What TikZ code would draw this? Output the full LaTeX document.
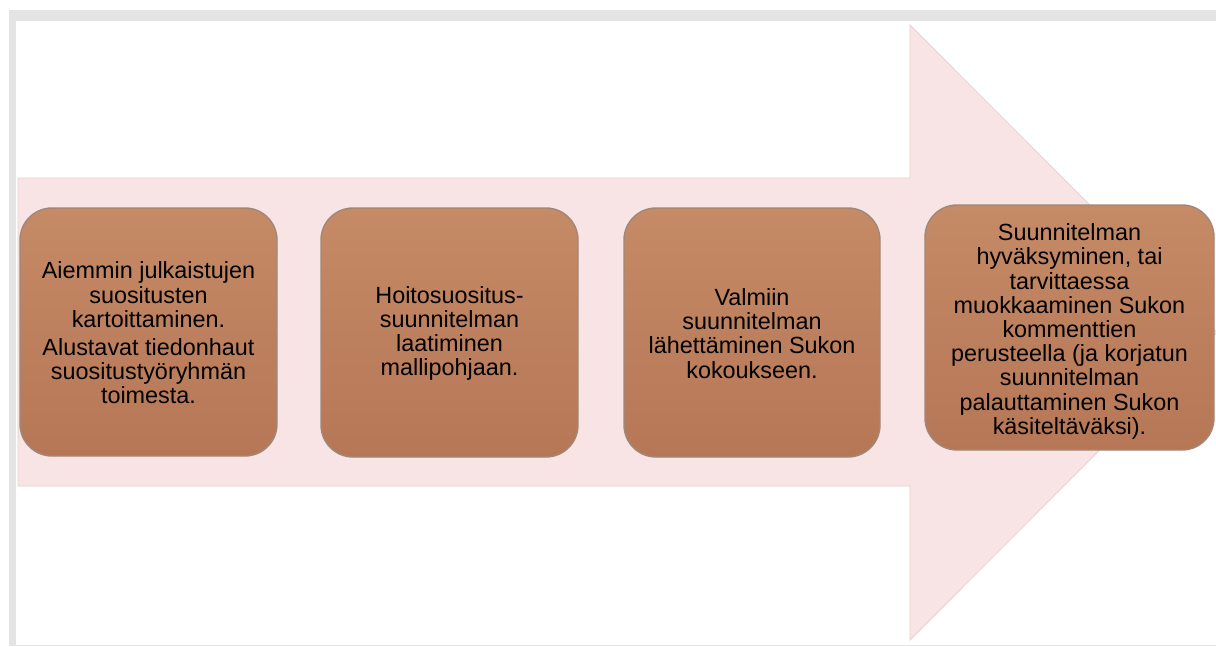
\documentclass[tikz,border=0pt]{standalone}
\usepackage{fontspec}
\setmainfont{Liberation Sans}
\definecolor{framegray}{HTML}{E4E4E4}
\definecolor{arrowpink}{HTML}{F8E4E4}
\definecolor{arrowedge}{HTML}{E8D0D0}
\definecolor{boxbrown}{HTML}{C0805C}
\definecolor{boxtop}{HTML}{C58A66}
\definecolor{boxbottom}{HTML}{B67757}
\definecolor{boxedge}{HTML}{A08878}
\begin{document}
\begin{tikzpicture}[x=1pt,y=-1pt,
  stepbox/.style={draw=boxedge, line width=1.4pt, rounded corners=32pt,
    top color=boxtop, middle color=boxbrown, bottom color=boxbottom,
    inner sep=0pt},
  steptext/.style={align=center, inner sep=0pt, text=black,
    font=\fontsize{23.4}{24.2}\selectfont},
  arrowshape/.style={fill=arrowpink, draw=arrowedge, line width=0.8pt}]
\useasboundingbox (0,0) rectangle (1216,646);
% page frame
\fill[framegray] (9,10) rectangle (1216,646);
\fill[white] (16,21) rectangle (1216,644.5);
% big arrow
\draw[arrowshape] (18,178) -- (910,178) -- (910,25) -- (1217,332.5)
  -- (910,640) -- (910,486) -- (18,486) -- cycle;
% step boxes
\node[stepbox, minimum width=257pt, minimum height=248pt] (b1) at (148.5,332) {};
\node[stepbox, minimum width=257pt, minimum height=249pt] (b2) at (449.5,332.5) {};
\node[stepbox, minimum width=256pt, minimum height=249pt] (b3) at (752,332.5) {};
\node[stepbox, minimum width=289pt, minimum height=245pt] (b4) at (1069.5,327.5) {};
% step texts
\node[steptext] (t1) at ([yshift=-1pt]b1.center)
  {Aiemmin julkaistujen\\suositusten\\kartoittaminen.\\[4pt]Alustavat tiedonhaut\\suositustyöryhmän\\toimesta.};
\node[steptext] (t2) at ([yshift=-1pt]b2.center)
  {Hoitosuositus-\\suunnitelman\\laatiminen\\mallipohjaan.};
\node[steptext] (t3) at ([yshift=-1pt]b3.center)
  {Valmiin\\suunnitelman\\lähettäminen Sukon\\kokoukseen.};
\node[steptext] (t4) at ([yshift=-4pt]b4.center)
  {Suunnitelman\\hyväksyminen, tai\\tarvittaessa\\muokkaaminen Sukon\\kommenttien\\perusteella (ja korjatun\\suunnitelman\\palauttaminen Sukon\\käsiteltäväksi).};
\end{tikzpicture}
\end{document}
